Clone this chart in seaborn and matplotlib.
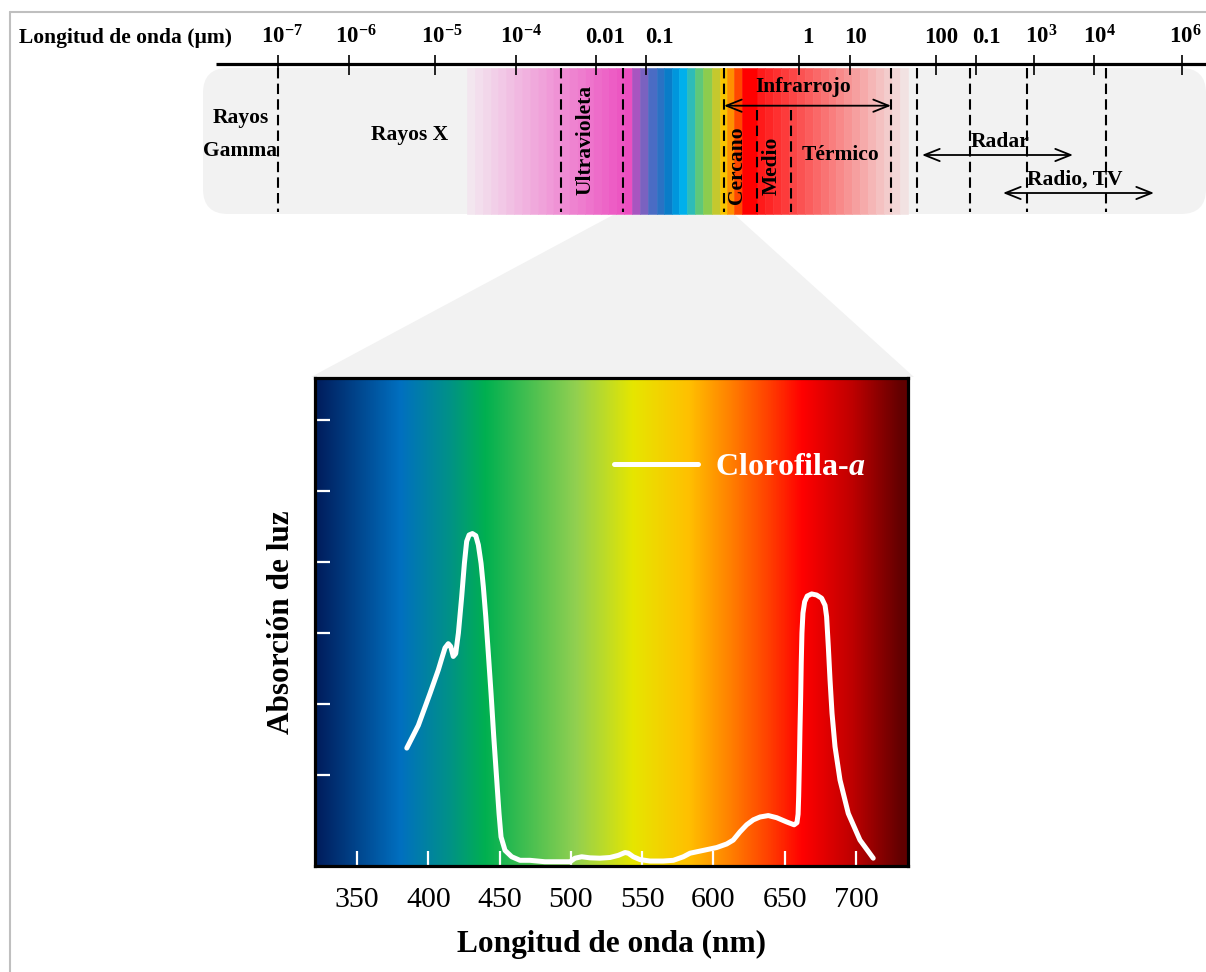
import numpy as np
import pandas as pd
import matplotlib
matplotlib.use("Agg")
import matplotlib.pyplot as plt
import seaborn as sns
from matplotlib.patches import FancyBboxPatch, Polygon
from matplotlib.colors import LinearSegmentedColormap, to_rgb

# ---------------- data: chlorophyll-a absorption curve ----------------
wavelength_nm = [384.9, 393.0, 401.2, 407.0, 409.4, 411.7, 414.0, 415.7, 417.5, 419.2,
                 421.1, 423.4, 425.3, 426.9, 428.6, 430.9, 433.3, 435.1, 437.0, 438.6,
                 440.3, 442.1, 444.0, 445.9, 448.0, 449.6, 451.0, 453.8, 458.5, 464.3,
                 471.3, 481.8, 492.4, 499.4, 502.9, 507.6, 513.4, 520.4, 527.5, 533.3,
                 538.0, 540.3, 543.8, 548.5, 555.5, 564.8, 571.9, 578.9, 583.6, 590.6,
                 602.3, 609.3, 613.9, 618.6, 623.3, 628.0, 632.7, 638.5, 644.4, 651.4,
                 656.6, 658.6, 659.4, 659.8, 660.3, 660.7, 661.2, 661.6, 662.1, 662.8,
                 664.0, 665.8, 668.9, 672.4, 675.9, 678.3, 679.4, 680.6, 681.8, 683.2,
                 685.3, 688.8, 694.6, 702.8, 712.1]
absorption = [1.38, 1.70, 2.15, 2.48, 2.64, 2.79, 2.85, 2.81, 2.67, 2.71,
              3.00, 3.51, 3.98, 4.29, 4.38, 4.40, 4.37, 4.24, 3.98, 3.65,
              3.23, 2.71, 2.15, 1.54, 0.93, 0.46, 0.13, -0.06, -0.15, -0.20,
              -0.20, -0.22, -0.22, -0.22, -0.17, -0.15, -0.165, -0.17, -0.16, -0.13,
              -0.09, -0.10, -0.15, -0.19, -0.21, -0.21, -0.20, -0.15, -0.10, -0.07,
              -0.02, 0.03, 0.085, 0.20, 0.30, 0.37, 0.41, 0.43, 0.40, 0.34,
              0.30, 0.33, 0.45, 0.70, 1.17, 1.63, 2.10, 2.57, 3.00, 3.28,
              3.44, 3.52, 3.55, 3.535, 3.49, 3.39, 3.23, 2.81, 2.34, 1.87,
              1.40, 0.93, 0.46, 0.085, -0.17]
series_name = "Clorofila-$a$"

x_ticks_nm = [350, 400, 450, 500, 550, 600, 650, 700]
y_ticks = [1, 2, 3, 4, 5, 6]
x_limits = (320.5, 736.5)
y_limits = (-0.28, 6.59)

# background colour stops of the lower chart (nm -> colour)
bg_stop_nm = [320.5, 323.3, 380.2, 413.1, 439.8, 503.6, 543.6, 582.9, 612.3, 639.0, 662.8, 697.2, 733.0, 736.5]
bg_stop_color = ['#002060', '#002060', '#0070c0', '#00908a', '#00b050', '#92d050', '#e6e600',
                 '#ffc000', '#ff8000', '#ff4000', '#ff0000', '#c00000', '#600000', '#600000']

# ---------------- schematic electromagnetic spectrum (upper strip) ----------------
scale_tick_pos = [277.5, 349, 435, 515.5, 596, 645.6, 799, 850, 936, 975.7, 1034, 1094, 1182]
scale_tick_labels = [r'$\mathbf{10^{-7}}$', r'$\mathbf{10^{-6}}$', r'$\mathbf{10^{-5}}$', r'$\mathbf{10^{-4}}$',
                     '0.01', '0.1', '1', '10', '100', '0.1',
                     r'$\mathbf{10^{3}}$', r'$\mathbf{10^{4}}$', r'$\mathbf{10^{6}}$']
scale_label_pos = [282, 356, 442, 521, 605, 659, 807.5, 855.6, 941.5, 986, 1041, 1099, 1185]
scale_title = "Longitud de onda (µm)"

boundary_pos = [277.5, 561, 623, 724, 757, 791, 891, 917, 970, 1027, 1106]
boundary_top = [68, 68, 68, 68, 110, 110, 68, 68, 68, 68, 68]

region_names = ['Rayos', 'Gamma', 'Rayos X', 'Ultravioleta', 'Infrarrojo', 'Cercano', 'Medio',
                'Térmico', 'Radar', 'Radio, TV']
region_x = [241, 240, 409.5, 585, 803.5, 737, 771.5, 841, 1000, 1075]
region_y = [118, 151, 135, 140, 87, 165, 166, 155, 142, 180]
region_rot = [0, 0, 0, 90, 0, 90, 90, 0, 0, 0]

range_start = [724, 922, 1003]
range_end = [891, 1073, 1154]
range_y = [105.7, 155, 193]

uv_fade = ('#f3e6ef', '#ec4ec0', 467, 632, 21)
spectrum_edges = [632, 640, 648, 657, 664, 672, 679, 687, 695, 703, 712, 720, 727, 734, 742, 757]
spectrum_colors = ['#a855c0', '#7a62c0', '#4a6cc4', '#2a72c4', '#0a7cc8', '#0096dc', '#00b0ec',
                   '#2ebcb8', '#5ec87a', '#8ccc4e', '#c4c82e', '#f8c400', '#ff9000', '#ff4800', '#ff0000']
ir_fade = ('#ff1a1a', '#f2e2e2', 757, 908, 19)

# ---------------- style ----------------
sns.set_theme(style="white")
plt.rcParams['font.family'] = ['Liberation Serif', 'DejaVu Serif']
plt.rcParams['text.color'] = 'black'
plt.rcParams['axes.labelcolor'] = 'black'
plt.rcParams['xtick.labelcolor'] = 'black'
plt.rcParams['mathtext.fontset'] = 'custom'
plt.rcParams['mathtext.rm'] = 'Liberation Serif'
plt.rcParams['mathtext.bf'] = 'Liberation Serif:bold'
plt.rcParams['mathtext.it'] = 'Liberation Serif:italic:bold'

W, H = 1206, 972
fig = plt.figure(figsize=(W / 100, H / 100), dpi=100)
fig.patch.set_facecolor('white')

# canvas axes for the schematic parts
axc = fig.add_axes([0, 0, 1, 1])
axc.set_xlim(0, W)
axc.set_ylim(H, 0)
axc.axis('off')
axc.set_zorder(0)

# outer frame
axc.plot([10, 10], [12, H], color='#bfbfbf', lw=1.5)
axc.plot([10, W], [12, 12], color='#bfbfbf', lw=1.5)

# grey band
axc.add_patch(FancyBboxPatch((203, 68), 1003, 146, boxstyle='round,pad=0,rounding_size=25',
                             fc='#f2f2f2', ec='none', zorder=1))


def fade(c0, c1, x0, x1, n):
    a, b = np.array(to_rgb(c0)), np.array(to_rgb(c1))
    edges = np.linspace(x0, x1, n + 1)
    cols = [tuple(a + (b - a) * t) for t in np.linspace(0, 1, n)]
    return list(edges[:-1]), list(np.diff(edges)), cols


lefts, widths, cols = [], [], []
for spec in (uv_fade, ir_fade):
    l, w, c = fade(*spec)
    lefts += l; widths += w; cols += c
lefts += spectrum_edges[:-1]
widths += list(np.diff(spectrum_edges))
cols += spectrum_colors
axc.bar(lefts, 146, width=widths, bottom=68, align='edge', color=cols,
        edgecolor=cols, linewidth=0.4, zorder=2)

# zoom trapezoid
axc.add_patch(Polygon([(613, 215), (735, 215), (914, 377), (311, 377)], closed=True,
                      fc='#f2f2f2', ec='none', zorder=1))

# scale line and ticks
axc.plot([216, W], [64, 64], color='black', lw=2.3, zorder=4, solid_capstyle='butt')
axc.vlines(scale_tick_pos, 55, 75, color='black', lw=1.2, zorder=4)
for xp, lab in zip(scale_label_pos, scale_tick_labels):
    axc.text(xp, 43, lab, ha='center', va='baseline', fontsize=16.5, fontweight='bold',
             color='black', zorder=5)
axc.text(19, 43, scale_title, ha='left', va='baseline', fontsize=15.5, fontweight='bold',
         color='black', zorder=5)

# boundaries
axc.vlines(boundary_pos, boundary_top, 212, color='black', lw=1.5,
           linestyles=(0, (5, 2.5)), zorder=4)

# region names
for name, xp, yp, rot in zip(region_names, region_x, region_y, region_rot):
    axc.text(xp, yp, name, ha='center', va='center', rotation=rot, fontsize=15.5,
             fontweight='bold', color='black', zorder=5)

# range arrows
for x0, x1, yp in zip(range_start, range_end, range_y):
    axc.annotate('', xy=(x1, yp), xytext=(x0, yp),
                 arrowprops=dict(arrowstyle='<->,head_length=0.55,head_width=0.22',
                                 lw=1.3, color='black', shrinkA=0, shrinkB=0,
                                 mutation_scale=20), zorder=5)

# ---------------- lower chart ----------------
ax = fig.add_axes([315 / W, (H - 866) / H, 593 / W, 488 / H])
ax.set_zorder(2)

span = x_limits[1] - x_limits[0]
cmap = LinearSegmentedColormap.from_list(
    'vis', [((v - x_limits[0]) / span, c) for v, c in zip(bg_stop_nm, bg_stop_color)], N=512)
grad = np.linspace(x_limits[0], x_limits[1], 800)[None, :]
ax.imshow(grad, extent=[x_limits[0], x_limits[1], y_limits[0], y_limits[1]], aspect='auto',
          cmap=cmap, vmin=x_limits[0], vmax=x_limits[1], interpolation='bilinear', zorder=0)

df = pd.DataFrame({'wl': wavelength_nm, 'abs': absorption})
sns.lineplot(data=df, x='wl', y='abs', ax=ax, color='white', linewidth=3.6, sort=False,
             estimator=None, label=series_name, zorder=3,
             solid_capstyle='round', solid_joinstyle='round')

ax.set_xlim(*x_limits)
ax.set_ylim(*y_limits)
ax.set_xticks(x_ticks_nm)
ax.set_yticks(y_ticks)
ax.set_yticklabels([])
ax.tick_params(axis='x', direction='in', length=11, width=1.6, color='white',
               labelsize=21.5, pad=15, labelcolor='black', bottom=True)
ax.tick_params(axis='y', direction='in', length=11, width=1.6, color='white', left=True)
for s in ax.spines.values():
    s.set_color('black')
    s.set_linewidth(2.3)
    s.set_zorder(5)
ax.set_xlabel('Longitud de onda (nm)', fontsize=22.5, fontweight='bold', labelpad=12, color='black')
ax.set_ylabel('Absorción de luz', fontsize=22.5, fontweight='bold', labelpad=10, color='black')

leg = ax.legend(loc='center left', bbox_to_anchor=(0.504, 0.816), frameon=False,
                borderaxespad=0, borderpad=0, handlelength=2.63, handletextpad=0.55,
                prop={'size': 23, 'weight': 'bold'})
for t in leg.get_texts():
    t.set_color('white')
for h in leg.get_lines():
    h.set_linewidth(3.6)

fig.savefig('out.png', dpi=100, facecolor='white')
